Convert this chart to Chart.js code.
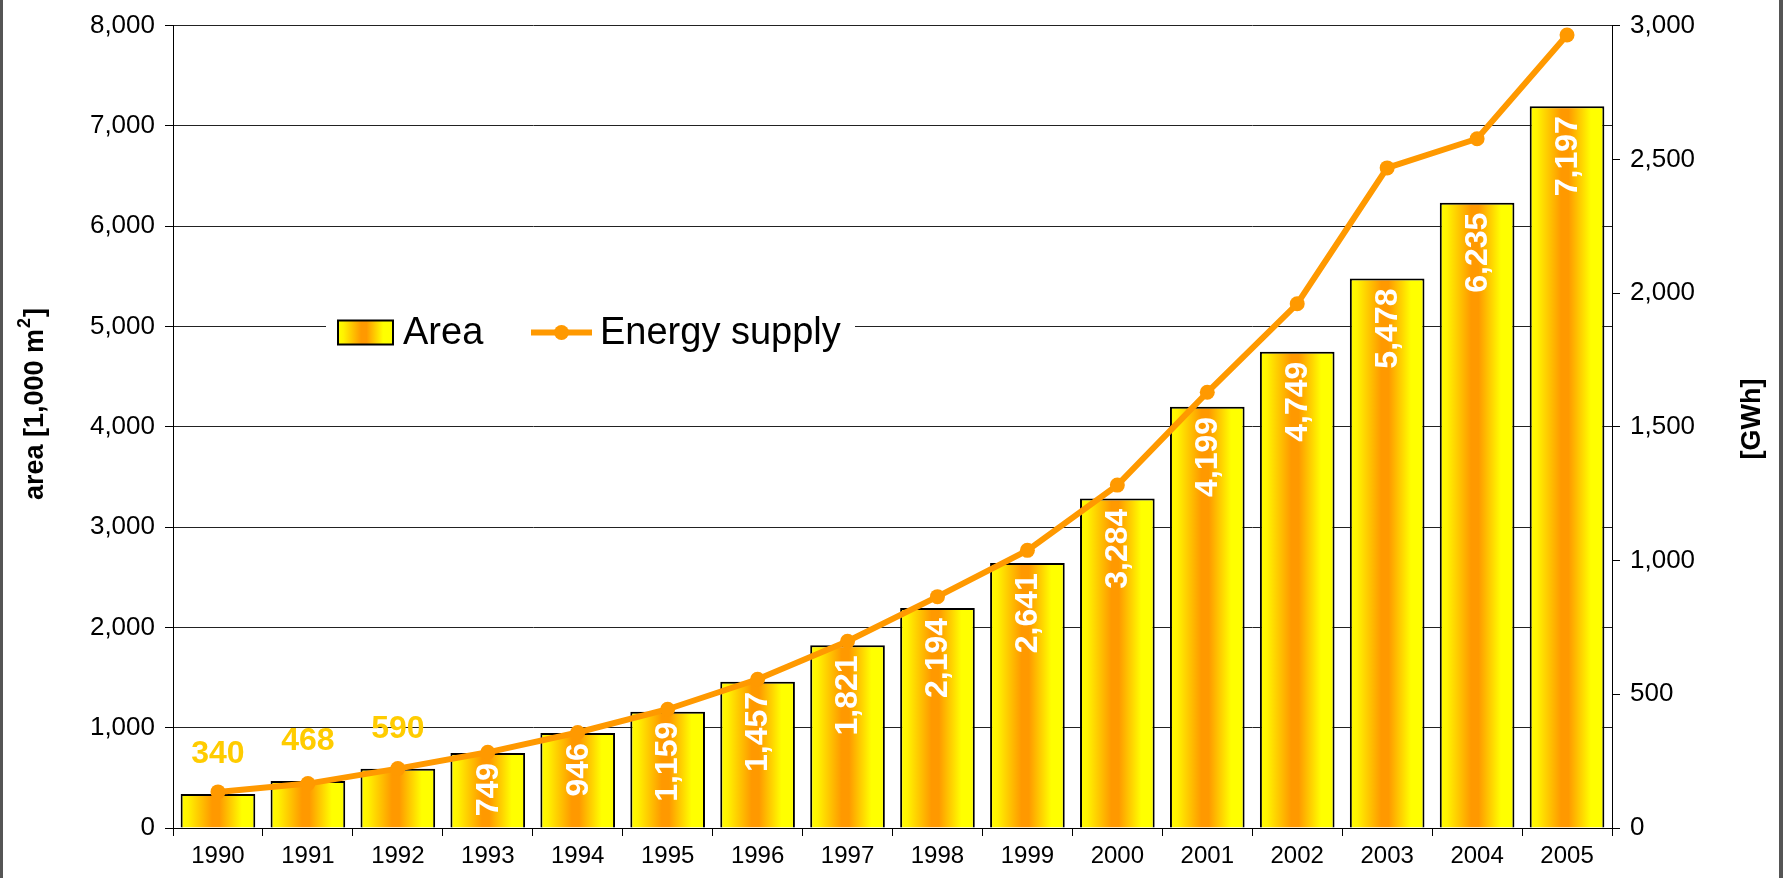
<!DOCTYPE html>
<html><head><meta charset="utf-8">
<script src="https://cdn.jsdelivr.net/npm/chart.js@4.4.1/dist/chart.umd.min.js"></script>
<style>html,body{margin:0;padding:0;background:#fff;}#wrap{width:1783px;height:878px;position:relative;}</style>
</head><body><div id="wrap"><canvas id="c" width="1783" height="878"></canvas></div>
<script>
const years = ['1990','1991','1992','1993','1994','1995','1996','1997','1998','1999','2000','2001','2002','2003','2004','2005'];
const areaValues = [340,468,590,749,946,1159,1457,1821,2194,2641,3284,4199,4749,5478,6235,7197];
const energyValues = [135,166,222,283,357,444,556,698,865,1038,1282,1629,1960,2468,2577,2965];
const seriesNames = ['Area','Energy supply'];
const leftTitleMain = 'area [1,000 m';
const leftTitleSup = '2';
const leftTitleEnd = ']';
const rightTitle = '[GWh]';

const FONT = "'Liberation Sans', Arial, sans-serif";
const BAR_PCT = 0.83;

function fmt(v){ return String(Math.round(v)).replace(/\B(?=(\d{3})+(?!\d))/g, ','); }

function makeGradient(c, x0, w){
  const g = c.createLinearGradient(x0, 0, x0 + w, 0);
  g.addColorStop(0, '#FFFF00');
  g.addColorStop(0.1, '#FFF200');
  g.addColorStop(0.42, '#FF9900');
  g.addColorStop(0.52, '#FF9900');
  g.addColorStop(0.82, '#FFFF00');
  g.addColorStop(1, '#FFFF00');
  return g;
}

function barGradient(context){
  const chart = context.chart;
  const xs = chart.scales && chart.scales.x;
  if (!xs || context.type !== 'data' || !xs.width) return '#FFCC00';
  const cx = xs.getPixelForValue(context.dataIndex);
  const w = (xs.width / years.length) * BAR_PCT;
  return makeGradient(chart.ctx, cx - w/2, w);
}

const framePlugin = {
  id: 'frame',
  beforeDraw(chart){
    const c = chart.ctx;
    c.save();
    c.fillStyle = '#fff';
    c.fillRect(0,0,chart.width,chart.height);
    c.fillStyle = '#555';
    c.fillRect(0,0,3,chart.height);
    c.fillRect(chart.width-4,0,4,chart.height);
    c.restore();
  }
};

const labelPlugin = {
  id: 'barLabels',
  afterDatasetsDraw(chart){
    const c = chart.ctx;
    const meta = chart.getDatasetMeta(1);
    c.save();
    c.font = 'bold 32px ' + FONT;
    meta.data.forEach((bar, i) => {
      const txt = fmt(areaValues[i]);
      if (i < 3) {
        c.fillStyle = '#FFCC00';
        c.textAlign = 'center';
        c.textBaseline = 'middle';
        c.fillText(txt, bar.x, bar.y - 40);
      } else {
        c.save();
        c.translate(bar.x + 1, bar.y + 10);
        c.rotate(-Math.PI/2);
        c.fillStyle = '#FFFFFF';
        c.textAlign = 'right';
        c.textBaseline = 'middle';
        c.fillText(txt, 0, 0);
        c.restore();
      }
    });
    c.restore();
  },
  afterDraw(chart){
    const c = chart.ctx;
    // legend
    const ys = chart.scales.y;
    const ly = ys.getPixelForValue(5000) + 6;
    c.save();
    c.fillStyle = '#fff';
    c.fillRect(326, ly - 26, 529, 50);
    const sx = 338, sw = 55, sh = 24;
    c.fillStyle = makeGradient(c, sx, sw);
    c.fillRect(sx, ly - sh/2, sw, sh);
    c.lineWidth = 2; c.strokeStyle = '#000';
    c.strokeRect(sx, ly - sh/2, sw, sh);
    c.fillStyle = '#000';
    c.font = '38px ' + FONT;
    c.textAlign = 'left'; c.textBaseline = 'middle';
    c.fillText(seriesNames[0], 403, ly + 1);
    c.strokeStyle = '#FF9900'; c.lineWidth = 6;
    c.beginPath(); c.moveTo(531, ly); c.lineTo(592, ly); c.stroke();
    c.fillStyle = '#FF9900';
    c.beginPath(); c.arc(561.5, ly, 7.5, 0, Math.PI*2); c.fill();
    c.fillStyle = '#000';
    c.fillText(seriesNames[1], 600, ly + 1);
    // left title
    c.save();
    c.translate(36, 404);
    c.rotate(-Math.PI/2);
    c.textBaseline = 'middle';
    c.textAlign = 'left';
    c.font = 'bold 27px ' + FONT;
    const w1 = c.measureText(leftTitleMain).width;
    c.font = 'bold 18px ' + FONT;
    const w2 = c.measureText(leftTitleSup).width;
    c.font = 'bold 27px ' + FONT;
    const w3 = c.measureText(leftTitleEnd).width;
    let x = -(w1 + w2 + w3 + 2) / 2;
    c.fillStyle = '#000';
    c.fillText(leftTitleMain, x, 0); x += w1 + 1;
    c.font = 'bold 18px ' + FONT;
    c.fillText(leftTitleSup, x, -11); x += w2 + 1;
    c.font = 'bold 27px ' + FONT;
    c.fillText(leftTitleEnd, x, 0);
    c.restore();
    // right title
    c.save();
    c.translate(1753, 419);
    c.rotate(-Math.PI/2);
    c.textBaseline = 'middle';
    c.textAlign = 'center';
    c.font = 'bold 27px ' + FONT;
    c.fillStyle = '#000';
    c.fillText(rightTitle, 0, 0);
    c.restore();
    c.restore();
  }
};

new Chart(document.getElementById('c'), {
  data: {
    labels: years,
    datasets: [
      {
        type: 'line',
        label: seriesNames[1],
        data: energyValues,
        yAxisID: 'y1',
        borderColor: '#FF9900',
        backgroundColor: '#FF9900',
        borderWidth: 6,
        pointRadius: 7.5,
        pointHoverRadius: 7.5,
        pointBorderWidth: 0,
        pointBackgroundColor: '#FF9900',
        tension: 0,
        order: 0
      },
      {
        type: 'bar',
        label: seriesNames[0],
        data: areaValues,
        yAxisID: 'y',
        backgroundColor: barGradient,
        borderColor: '#000',
        borderWidth: 2,
        barPercentage: BAR_PCT,
        categoryPercentage: 1,
        order: 1
      }
    ]
  },
  options: {
    responsive: false,
    animation: false,
    devicePixelRatio: 1,
    layout: { padding: { top: 20, left: 0, right: 0, bottom: 0 } },
    plugins: { legend: { display: false }, tooltip: { enabled: false } },
    scales: {
      x: {
        type: 'category',
        offset: true,
        grid: { display: true, drawOnChartArea: false, drawTicks: true, tickLength: 8, color: '#000', offset: true },
        border: { display: true, color: '#000', width: 1 },
        ticks: { color: '#000', font: { family: FONT, size: 24 }, padding: 6, maxRotation: 0, autoSkip: false },
        afterFit(s){ s.height = 50; }
      },
      y: {
        position: 'left',
        min: 0, max: 8000,
        grid: { color: '#222', lineWidth: 1, tickLength: 8, tickColor: '#000' },
        border: { display: true, color: '#000', width: 1 },
        ticks: { stepSize: 1000, color: '#000', font: { family: FONT, size: 26 }, padding: 10, callback: v => fmt(v) },
        afterFit(s){ s.width = 173; }
      },
      y1: {
        position: 'right',
        min: 0, max: 3000,
        grid: { drawOnChartArea: false, tickLength: 8, color: '#000' },
        border: { display: true, color: '#000', width: 1 },
        ticks: { stepSize: 500, color: '#000', font: { family: FONT, size: 26 }, padding: 10, callback: v => fmt(v) },
        afterFit(s){ s.width = 171; }
      }
    }
  },
  plugins: [framePlugin, labelPlugin]
});
</script>
</body></html>
